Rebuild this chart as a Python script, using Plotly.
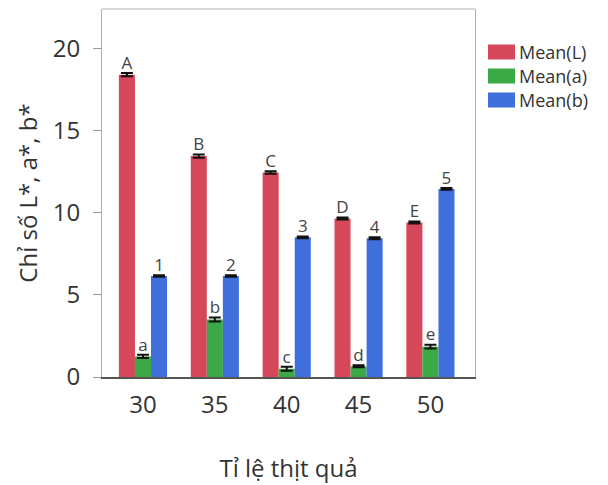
import plotly.graph_objects as go

categories = ["30", "35", "40", "45", "50"]
mean_L = [18.4, 13.45, 12.45, 9.65, 9.4]
mean_a = [1.25, 3.5, 0.5, 0.65, 1.85]
mean_b = [6.15, 6.15, 8.5, 8.45, 11.45]
err_L = [0.1, 0.1, 0.08, 0.06, 0.06]
err_a = [0.1, 0.12, 0.12, 0.06, 0.12]
err_b = [0.05, 0.05, 0.05, 0.06, 0.05]
labels_L = ["A", "B", "C", "D", "E"]
labels_a = ["a", "b", "c", "d", "e"]
labels_b = ["1", "2", "3", "4", "5"]
series_names = ["Mean(L)", "Mean(a)", "Mean(b)"]
colors = ["#D6475A", "#3BAA46", "#3F6FDB"]

FONT = "Open Sans"
PL, PR, PT, PB = 102, 475, 9, 377
fig = go.Figure()
data = [(mean_L, err_L, labels_L), (mean_a, err_a, labels_a), (mean_b, err_b, labels_b)]
for (vals, errs, labs), name, col in zip(data, series_names, colors):
    fig.add_trace(go.Bar(
        x=categories, y=vals, name=name, marker=dict(color=col, line=dict(width=0)),
        error_y=dict(type="data", array=errs, visible=True, color="#111", thickness=2, width=6),
        showlegend=False,
    ))
for (vals, errs, labs), name, col in zip(data, series_names, colors):
    fig.add_trace(go.Scatter(
        x=categories, y=[v + e for v, e in zip(vals, errs)], mode="text", text=labs,
        textposition="top center", orientation="v",
        textfont=dict(family=FONT, size=17, color="#444"), showlegend=False,
        hoverinfo="skip", cliponaxis=False,
    ))

# custom legend
W, H = PR - PL, PB - PT
for name, col, ly in zip(series_names, colors, [52, 76, 100]):
    yp = 1 - (ly - PT) / H
    fig.add_shape(type="rect", xref="paper", yref="paper",
                  x0=(488 - PL) / W, x1=(515 - PL) / W,
                  y0=yp - 7.5 / H, y1=yp + 7.5 / H,
                  fillcolor=col, line=dict(width=0))
    fig.add_annotation(xref="paper", yref="paper", x=(517 - PL) / W, y=yp,
                       xanchor="left", yanchor="middle", text=name, showarrow=False,
                       font=dict(family=FONT, size=18, color="#333"))

fig.add_shape(type="line", xref="paper", yref="paper", x0=0, x1=1, y0=1, y1=1,
              line=dict(color="#B0B0B0", width=1))

fig.update_layout(
    width=608, height=485,
    margin=dict(l=PL, r=608 - PR, t=PT, b=485 - PB),
    paper_bgcolor="white", plot_bgcolor="white",
    barmode="group", bargap=0.33, bargroupgap=0,
    scattermode="group", scattergap=0.33,
    font=dict(family=FONT, color="#333"),
    showlegend=False,
    xaxis=dict(
        type="category", range=[-0.57, 4.62], automargin=False,
        showline=True, linecolor="#555", linewidth=1.5,
        ticks="", showgrid=False, ticklabelstandoff=5,
        tickfont=dict(family=FONT, size=24, color="#333"),
        title=dict(text="Tỉ lệ thịt quả", font=dict(family=FONT, size=24, color="#333"), standoff=42),
    ),
    yaxis=dict(
        range=[0, 22.4], tickvals=[0, 5, 10, 15, 20], automargin=False,
        showline=True, linecolor="#B0B0B0", linewidth=1, mirror=True,
        ticks="outside", ticklen=8, tickcolor="#999", showgrid=False, zeroline=False,
        ticklabelstandoff=8,
        tickfont=dict(family=FONT, size=24, color="#333"),
        title=dict(text="Chỉ số L*, a*, b*", font=dict(family=FONT, size=24, color="#333"), standoff=8),
    ),
)

fig.write_html("out.html", post_script="document.body.style.margin='0';",
               config={"displayModeBar": False})
